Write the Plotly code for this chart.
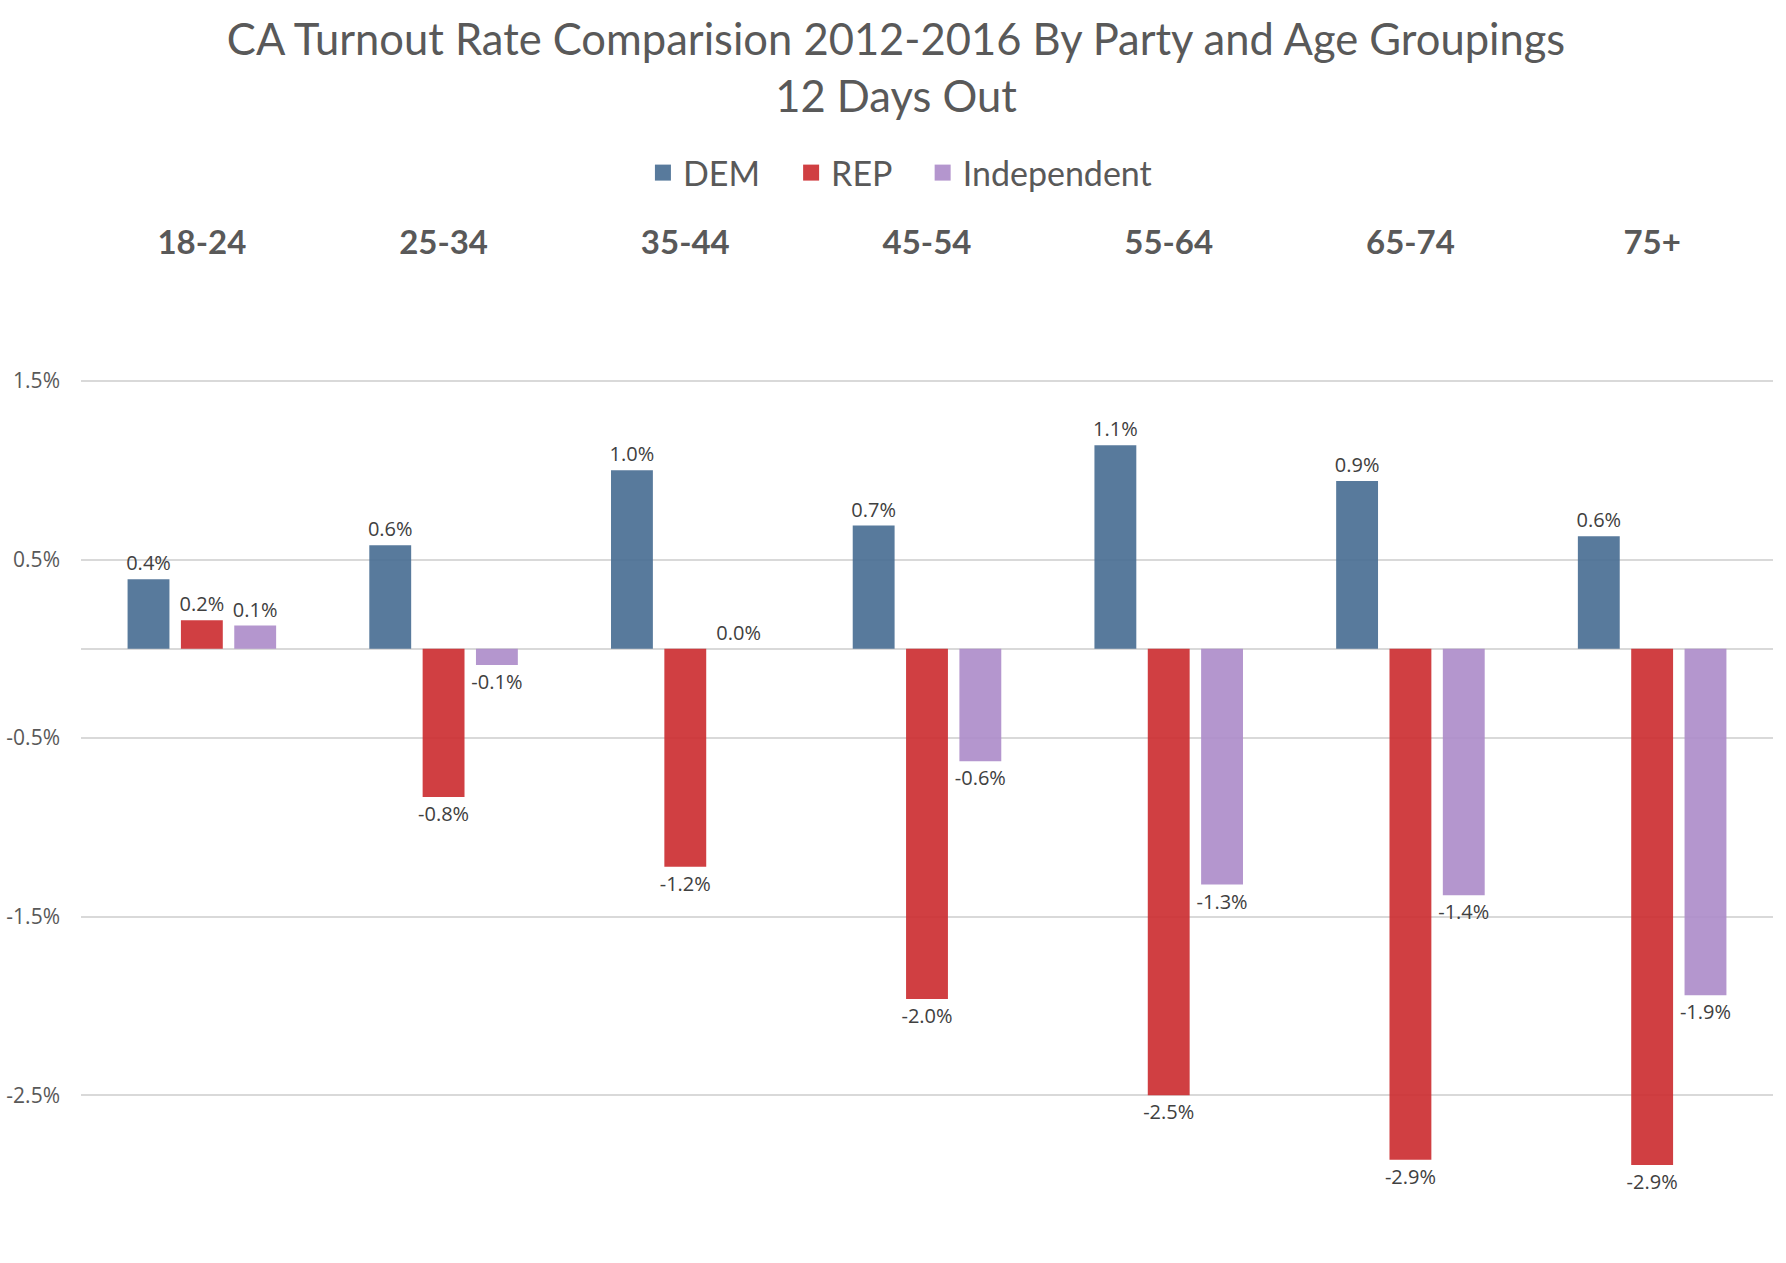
import plotly.graph_objects as go

age_groups = ["18-24", "25-34", "35-44", "45-54", "55-64", "65-74", "75+"]
dem = [0.39, 0.58, 1.0, 0.69, 1.14, 0.94, 0.63]
rep = [0.16, -0.83, -1.22, -1.96, -2.50, -2.86, -2.89]
ind = [0.13, -0.09, 0.0, -0.63, -1.32, -1.38, -1.94]

series = [
    ("DEM", dem, "#4a6f94"),
    ("REP", rep, "#cc2f32"),
    ("Independent", ind, "#ae8dca"),
]

tick_vals = [1.5, 0.5, -0.5, -1.5, -2.5]
tick_text = ["1.5%", "0.5%", "-0.5%", "-1.5%", "-2.5%"]

fig = go.Figure()
for name, vals, color in series:
    fig.add_trace(go.Bar(
        name=name,
        x=age_groups,
        y=vals,
        marker=dict(color=color, opacity=0.92, line=dict(width=0)),
        text=[f"{v:.1f}%" for v in vals],
        textposition="outside",
        constraintext="none",
        cliponaxis=False,
        textfont=dict(family="Open Sans", size=20, color="#404040"),
        hoverinfo="skip",
        showlegend=False,
    ))
# legend entries with larger square swatches
for i, (name, vals, color) in enumerate(series):
    label = name + ("\u00a0\u00a0\u00a0" if i < len(series) - 1 else "")
    fig.add_trace(go.Scatter(
        name=label,
        x=[None], y=[None],
        mode="markers",
        marker=dict(symbol="square", size=26, color=color, opacity=0.92),
        hoverinfo="skip",
        showlegend=True,
    ))

fig.update_layout(
    width=1786,
    height=1263,
    paper_bgcolor="white",
    plot_bgcolor="white",
    margin=dict(l=81, r=13, t=262, b=23, autoexpand=False),
    barmode="group",
    bargap=0.338,
    bargroupgap=0.215,
    title=dict(
        text="CA Turnout Rate Comparision 2012-2016 By Party and Age Groupings<br>12 Days Out",
        x=0.5017, xanchor="center",
        y=1 - 55 / 1263, yanchor="top", yref="container",
        font=dict(family="Lato", size=43.5, color="#595959"),
    ),
    legend=dict(
        orientation="h",
        x=0.484, xanchor="center",
        y=1.091, yanchor="middle",
        font=dict(family="Lato", size=34, color="#595959"),
        itemwidth=30,
        tracegroupgap=0,
        traceorder="normal",
    ),
    xaxis=dict(
        side="top",
        showgrid=False,
        showline=False,
        ticks="",
        automargin=False,
        tickfont=dict(family="Lato", size=33, color="#595959", weight="bold"),
    ),
    yaxis=dict(
        range=[-3.31, 2.166],
        tickvals=tick_vals,
        ticktext=tick_text,
        showgrid=True,
        gridcolor="#d9d9d9",
        gridwidth=1.5,
        zeroline=True,
        zerolinecolor="#d9d9d9",
        zerolinewidth=1.5,
        ticks="",
        automargin=False,
        ticklabelstandoff=20,
        tickfont=dict(family="Open Sans", size=21, color="#595959"),
    ),
)

fig.write_html("out.html")
